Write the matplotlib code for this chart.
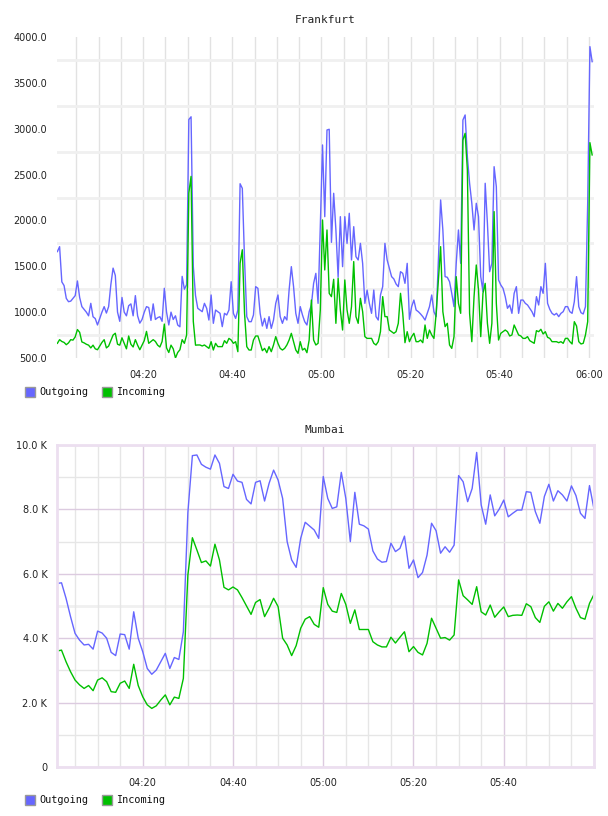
import pandas as pd
import matplotlib
matplotlib.use('Agg')
import matplotlib.pyplot as plt
import matplotlib.dates as mdates
from matplotlib.patches import Rectangle
from matplotlib.ticker import FixedLocator, FuncFormatter

# Frankfurt, one value every 30 s from 04:00:45
fra_out = [1660, 1714, 1330, 1290, 1150, 1114, 1120, 1150, 1180, 1340,
           1160, 1060, 1030, 1000, 960, 1096, 950, 930, 860, 930,
           1000, 1060, 990, 1060, 1300, 1480, 1400, 1000, 900, 1160,
           1000, 960, 1070, 1090, 960, 1180, 960, 880, 920, 1000,
           1060, 1050, 910, 1090, 920, 940, 950, 900, 1260, 1000,
           860, 1000, 920, 960, 860, 840, 1390, 1250, 1300, 3100,
           3130, 1500, 1180,
           1042, 1023, 1005, 1096, 1042, 914, 1187, 878, 1023, 1005,
           987, 842, 987, 969, 1023, 1332, 987, 932, 1023, 2400,
           2350, 1569, 951, 896, 896, 969, 1278, 1260, 987, 849,
           932, 823, 951, 823, 914, 1096, 1187, 951, 878, 951,
           914, 1241, 1496, 1278, 987, 878, 1060, 969, 896, 860,
           1005, 1078, 1314, 1423, 1096, 1932, 2823, 2041, 2986, 2994,
           1761, 2296, 1896, 1380, 2041, 1496, 2041, 1750, 2078, 1569,
           1932, 1605, 1569, 1750, 1532, 1096, 1241, 1096, 987, 1241,
           951, 914, 1187, 1278, 1750, 1569, 1478, 1387, 1362, 1307,
           1278, 1441, 1423, 1314, 1532, 922, 1060, 1132, 1023, 1005,
           980, 951, 914, 987, 1060, 1187, 1005, 951, 1569, 2223,
           1896, 1387, 1380, 1332, 1205, 1060, 1532, 1896, 1532, 3095,
           3150, 2696, 2405, 2187, 1896, 2187, 2041, 1387, 1223, 2405,
           1969, 1441, 1532, 2586, 2368, 1351, 1296, 1260, 1169, 1042,
           1078, 987, 1205, 1278, 987, 1132, 1132, 1096, 1078, 1042,
           1005, 951, 1169, 1078, 1278, 1205, 1532, 1096, 1030, 987,
           969, 987, 951, 987, 1005, 1060, 1060, 1005, 987, 1114,
           1387, 1060, 994, 980, 1060, 2187, 3895, 3731]
fra_in = [660, 700, 680, 670, 645, 665, 700, 695, 730, 810,
          780, 675, 665, 650, 640, 610, 640, 600, 590, 630,
          670, 700, 610, 630, 690, 750, 770, 650, 640, 720,
          660, 600, 740, 650, 620, 700, 640, 590, 640, 690,
          790, 660, 680, 700, 680, 640, 620, 680, 870, 610,
          560, 640, 600, 500, 560, 590, 700, 660, 750, 2300,
          2480, 900, 640,
          642, 642, 631, 642, 624, 605, 678, 587, 660, 624,
          624, 624, 689, 660, 714, 696, 660, 678, 569, 1532,
          1680, 987, 624, 587, 587, 696, 740, 740, 660, 580,
          605, 558, 624, 569, 642, 733, 660, 605, 587, 605,
          642, 696, 769, 678, 587, 551, 678, 587, 605, 558,
          696, 1132, 696, 642, 660, 1023, 2005, 1460, 1896, 1205,
          1169, 1358, 878, 1369, 1023, 805, 1351, 1023, 878, 1060,
          1551, 951, 878, 1151, 1005, 733, 714, 714, 714, 660,
          642, 678, 787, 1169, 951, 951, 805, 787, 769, 787,
          878, 1205, 987, 667, 787, 678, 733, 769, 678, 678,
          696, 667, 860, 714, 805, 751, 714, 987, 1351, 1714,
          1005, 842, 878, 642, 605, 733, 1387, 1096, 987, 2877,
          2950, 2550, 987, 678, 1169, 1514, 1241, 733, 1205, 1314,
          878, 660, 878, 2096, 1096, 696, 769, 787, 805, 787,
          740, 751, 860, 805, 751, 740, 714, 714, 733, 689,
          674, 660, 798, 787, 813, 762, 787, 725, 714, 678,
          678, 678, 667, 678, 660, 714, 714, 678, 653, 896,
          849, 678, 653, 660, 751, 896, 2848, 2714]

# Mumbai, one value per minute from 04:01 (in K)
mum_out = [5.70, 5.72, 5.24, 4.67, 4.15, 3.94, 3.79, 3.81, 3.66, 4.22,
           4.16, 4.00, 3.56, 3.46, 4.13, 4.11, 3.66, 4.82, 4.00, 3.58,
           3.06, 2.88, 3.01, 3.27, 3.53, 3.06, 3.40, 3.34, 4.20, 7.90,
           9.67, 9.69, 9.40, 9.31, 9.25, 9.69, 9.43, 8.71, 8.65, 9.09,
           8.88, 8.84, 8.31, 8.17, 8.84, 8.89, 8.26, 8.81, 9.22, 8.91,
           8.34, 7.00, 6.43, 6.20, 7.10, 7.60, 7.48, 7.36, 7.10,
           9.02, 8.34, 8.03, 8.08, 9.15, 8.34, 7.00, 8.53, 7.54, 7.49,
           7.39, 6.71, 6.46, 6.36, 6.38, 6.95, 6.69, 6.79, 7.17, 6.17,
           6.43, 5.88, 6.04, 6.58, 7.57, 7.34, 6.64, 6.84, 6.67, 6.89,
           9.05, 8.86, 8.24, 8.65, 9.77, 8.14, 7.54, 8.45, 7.80, 8.01,
           8.29, 7.77, 7.88, 7.98, 7.98, 8.55, 8.53, 7.93, 7.57, 8.40,
           8.78, 8.26, 8.58, 8.45, 8.26, 8.73, 8.43, 7.88, 7.72, 8.74,
           8.01]
mum_in = [3.60, 3.63, 3.27, 2.96, 2.70, 2.55, 2.44, 2.53, 2.37, 2.70,
          2.77, 2.65, 2.34, 2.32, 2.60, 2.67, 2.44, 3.19, 2.53, 2.18,
          1.93, 1.82, 1.90, 2.08, 2.24, 1.93, 2.17, 2.13, 2.75, 5.96,
          7.12, 6.74, 6.35, 6.40, 6.24, 6.92, 6.43, 5.58, 5.50, 5.59,
          5.50, 5.26, 5.00, 4.74, 5.11, 5.20, 4.67, 4.93, 5.24, 4.98,
          4.00, 3.79, 3.46, 3.77, 4.31, 4.59, 4.67, 4.43, 4.34,
          5.57, 5.05, 4.84, 4.80, 5.39, 5.05, 4.46, 4.88, 4.27, 4.27,
          4.27, 3.89, 3.79, 3.73, 3.73, 4.03, 3.85, 4.03, 4.20, 3.58,
          3.74, 3.56, 3.48, 3.84, 4.62, 4.31, 4.00, 4.02, 3.94, 4.10,
          5.81, 5.32, 5.19, 5.05, 5.60, 4.82, 4.72, 5.03, 4.65, 4.82,
          4.97, 4.67, 4.71, 4.72, 4.71, 5.07, 4.98, 4.64, 4.49, 4.99,
          5.13, 4.84, 5.08, 4.93, 5.13, 5.29, 4.93, 4.64, 4.59, 5.08,
          5.36]

fra_time = pd.date_range('2024-01-01 04:00:45', periods=len(fra_out), freq='30s')
mum_time = pd.date_range('2024-01-01 04:01', periods=len(mum_out), freq='1min')

BLUE = '#6666ff'
GREEN = '#00c000'
MONO = 'DejaVu Sans Mono'

W, H = 608, 816
fig = plt.figure(figsize=(W / 100, H / 100), dpi=100)


def legend(y):
    for x, col, name in [(25, BLUE, 'Outgoing'), (102, GREEN, 'Incoming')]:
        fig.add_artist(Rectangle((x / W, 1 - (y + 5) / H), 10 / W, 10 / H,
                                 transform=fig.transFigure, facecolor=col,
                                 edgecolor='#999999', lw=1))
        fig.text((x + 14) / W, 1 - y / H, name, family=MONO, size=7.3,
                 va='center', ha='left', color='#111111')


# --- Frankfurt ---
ax1 = fig.add_axes([57 / W, 1 - 358 / H, 537 / W, 321 / H])
ax1.plot(fra_time, fra_out, color=BLUE, lw=1.0)
ax1.plot(fra_time, fra_in, color=GREEN, lw=1.0)
ax1.set_ylim(500, 4000)
ax1.set_xlim(pd.Timestamp('2024-01-01 04:00:40'), pd.Timestamp('2024-01-01 06:01:10'))
ax1.set_yticks(range(500, 4001, 500))
ax1.yaxis.set_major_formatter(FuncFormatter(lambda v, p: f'{v:.1f}'))
ax1.yaxis.set_minor_locator(FixedLocator(range(750, 4000, 500)))
ax1.xaxis.set_major_locator(mdates.MinuteLocator(byminute=[0, 20, 40]))
ax1.xaxis.set_minor_locator(mdates.MinuteLocator(byminute=range(0, 60, 5)))
ax1.xaxis.set_major_formatter(mdates.DateFormatter('%H:%M'))
ax1.grid(True, axis='x', which='both', color='#e2e2e2', lw=1)
ax1.grid(True, axis='y', which='minor', color='#f0f0f0', lw=2)
ax1.set_axisbelow(True)
for s in ax1.spines.values():
    s.set_visible(False)
ax1.tick_params(which='both', length=0, labelsize=7, colors='#222222')
ax1.tick_params(axis='y', pad=7)
ax1.tick_params(axis='x', pad=9)
fig.text(325 / W, 1 - 20 / H, 'Frankfurt', family=MONO, size=8, ha='center',
         va='center', color='#222222')
legend(392)

# --- Mumbai ---
ax2 = fig.add_axes([57 / W, 1 - 767 / H, 537 / W, 322 / H])
ax2.plot(mum_time, mum_out, color=BLUE, lw=1.0)
ax2.plot(mum_time, mum_in, color=GREEN, lw=1.0)
ax2.set_ylim(0, 10)
ax2.set_xlim(pd.Timestamp('2024-01-01 04:01'), pd.Timestamp('2024-01-01 06:00'))
ax2.set_yticks(range(0, 11, 2))
ax2.yaxis.set_major_formatter(FuncFormatter(lambda v, p: '0' if v == 0 else f'{v:.1f} K'))
ax2.yaxis.set_minor_locator(FixedLocator([1, 3, 7, 9]))
ax2.axhline(5, color='#f0f0f0', lw=2, zorder=0)
major_t = pd.to_datetime(['2024-01-01 04:20', '2024-01-01 04:40', '2024-01-01 05:00',
                          '2024-01-01 05:20', '2024-01-01 05:40'])
ax2.xaxis.set_major_locator(FixedLocator(mdates.date2num(major_t)))
ax2.xaxis.set_minor_locator(mdates.MinuteLocator(byminute=range(0, 60, 5)))
ax2.xaxis.set_major_formatter(mdates.DateFormatter('%H:%M'))
ax2.grid(True, which='major', color='#dccbe0', lw=1)
ax2.grid(True, which='minor', color='#e6e6e6', lw=1)
ax2.set_axisbelow(True)
for s in ax2.spines.values():
    s.set_color('#ecdff0')
    s.set_linewidth(2)
ax2.tick_params(which='both', length=0, labelsize=7, colors='#222222')
ax2.tick_params(axis='y', pad=7)
ax2.tick_params(axis='x', pad=8)
fig.text(325 / W, 1 - 430 / H, 'Mumbai', family=MONO, size=8, ha='center',
         va='center', color='#222222')
legend(800)

fig.savefig('out.png', dpi=100)
